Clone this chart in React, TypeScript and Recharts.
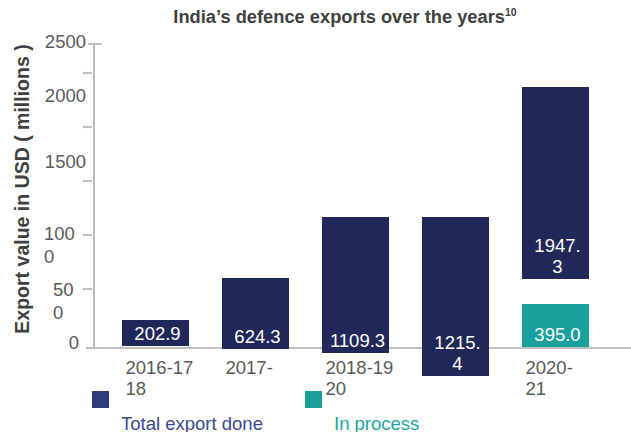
import React from 'react';
import { BarChart, Bar, XAxis, YAxis, ReferenceLine, LabelList, Legend } from 'recharts';

// ---------- data ----------
const categories = ['2016-17', '2017-18', '2018-19', '2019-20', '2020-21'];
// category tick labels as they appear (wrapped) in the picture
const categoryTickLines = [['2016-17', '18'], ['2017-'], ['2018-19', '20'], [], ['2020-', '21']];
// floating ranges [low, high] of the drawn boxes, in axis units
const totalExportRange = [[16, 230], [-8, 576], [-41, 1077], [-230, 1077], [567, 2146]];
const totalExportLabels = ['202.9', '624.3', '1109.3', '1215.\n4', '1947.\n3'];
const inProcessRange = [null, null, null, null, [8, 362]];
const inProcessLabels = ['', '', '', '', '395.0'];
const yTickValues = [0, 485, 929, 1373, 1817, 2262, 2500];
const yTickLabels = ['0', '50\n0', '100\n0', '1500', '', '2000', '2500'];
const seriesNames = ['Total export done', 'In process'];

const data = categories.map((c, i) => ({
  category: c,
  total: totalExportRange[i],
  totalLabel: totalExportLabels[i],
  inProcess: inProcessRange[i],
  inProcessLabel: inProcessLabels[i],
}));

// ---------- styles ----------
const FONT = '"Liberation Sans", Arial, sans-serif';
const FS = 18.5;
const DARK = '#20285a';
const TEAL = '#1aa09c';
const AXIS = '#bfbfbf';
const TEXT = '#595959';

const yLabelLayout = [
  { anchor: 'end', x: -15, dy: -5, tick: [-8, 0] },
  { anchor: 'start', x: -41, dy: 0, tick: [-11, -2] },
  { anchor: 'start', x: -50, dy: -2, tick: [-11, -2] },
  { anchor: 'end', x: -8, dy: -20, tick: [-11, -2] },
  { anchor: 'end', x: -8, dy: 0, tick: [-11, -2] },
  { anchor: 'end', x: -8, dy: 23, tick: [-11, -2] },
  { anchor: 'end', x: -8, dy: -3, tick: [-6, 8] },
];

const YTick = (props: any) => {
  const { x, y, payload } = props;
  const i = yTickValues.indexOf(payload.value);
  if (i < 0) return null;
  const l = yLabelLayout[i];
  const lines = yTickLabels[i] ? yTickLabels[i].split('\n') : [];
  return (
    <g>
      <line x1={x + l.tick[0]} x2={x + l.tick[1]} y1={y} y2={y} stroke={AXIS} strokeWidth={2} />
      {lines.map((t, k) => (
        <text
          key={k}
          x={x + l.x}
          y={y + l.dy + 6.5 + k * 23}
          textAnchor={l.anchor as any}
          fontSize={FS}
          fontFamily={FONT}
          fill={TEXT}
        >
          {t}
        </text>
      ))}
    </g>
  );
};

const XTick = (props: any) => {
  const { x, y, index } = props;
  const lines = categoryTickLines[index] || [];
  return (
    <g>
      {lines.map((t, k) => (
        <text key={k} x={x - 29.5} y={y - 6 + k * 21} textAnchor="start" fontSize={FS} fontFamily={FONT} fill={TEXT}>
          {t}
        </text>
      ))}
    </g>
  );
};

const BarText = (props: any) => {
  const { x, y, width, height, value } = props;
  if (!value) return null;
  const lines = String(value).split('\n');
  const bottom = y + height;
  return (
    <g>
      {lines.map((t, k) => (
        <text
          key={k}
          x={x + width / 2 + 2}
          y={bottom - 6 - (lines.length - 1 - k) * 21}
          textAnchor="middle"
          fontSize={FS}
          fontFamily={FONT}
          fill="#ffffff"
        >
          {t}
        </text>
      ))}
    </g>
  );
};

const YTitle = () => (
  <text
    x={22}
    y={189}
    transform="rotate(-90 22 189)"
    textAnchor="middle"
    dominantBaseline="central"
    fontSize={19.5}
    fontWeight="bold"
    fontFamily={FONT}
    fill="#404040"
  >
    Export value in USD ( millions )
  </text>
);

const legendSwatch = ['#2f3c7c', TEAL];
const legendText = ['#3b4a8c', '#22a6a1'];
const legendLeft = [92, 305];

const LegendContent = (props: any) => {
  const items = [...(props.payload || [])].sort(
    (a: any, b: any) => seriesNames.indexOf(a.value) - seriesNames.indexOf(b.value)
  );
  return (
    <div style={{ position: 'relative', height: 0, width: 631 }}>
      {items.map((it: any, i: number) => (
        <React.Fragment key={i}>
          <div
            style={{
              position: 'absolute',
              left: legendLeft[i],
              top: 391,
              width: 17,
              height: 17,
              background: legendSwatch[i],
            }}
          />
          <div
            style={{
              position: 'absolute',
              left: legendLeft[i] + 29,
              top: 415.3,
              fontSize: FS,
              lineHeight: '1',
              fontFamily: FONT,
              color: legendText[i],
              whiteSpace: 'nowrap',
            }}
          >
            {it.value}
          </div>
        </React.Fragment>
      ))}
    </div>
  );
};

export default function App() {
  return (
    <div style={{ position: 'relative', width: 631, height: 432, overflow: 'hidden', background: '#fff' }}>
      <style>{'body{margin:0}'}</style>
      <div
        style={{
          position: 'absolute',
          left: 0,
          width: 690,
          top: 6,
          textAlign: 'center',
          fontFamily: FONT,
          fontWeight: 'bold',
          fontSize: 18.3,
          color: '#404040',
          zIndex: 2,
        }}
      >
        India’s defence exports over the years<sup style={{ fontSize: 10.5 }}>10</sup>
      </div>
      <BarChart
        width={631}
        height={432}
        data={data}
        margin={{ top: 44, right: 0, bottom: 0, left: 0 }}
      >
        <XAxis
          xAxisId="a"
          dataKey="category"
          padding={{ left: 11, right: 26 }}
          axisLine={false}
          tickLine={false}
          tickSize={0}
          tickMargin={0}
          height={52}
          interval={0}
          tick={<XTick />}
        />
        <XAxis xAxisId="b" dataKey="category" padding={{ left: 11, right: 26 }} hide />
        <YAxis
          type="number"
          domain={[-263.2, 2500]}
          allowDataOverflow
          ticks={yTickValues}
          interval={0}
          width={94}
          tickSize={0}
          tickMargin={0}
          tickLine={false}
          axisLine={{ stroke: AXIS, strokeWidth: 2, strokeDasharray: '304 200' }}
          tick={<YTick />}
          label={{ content: () => <YTitle /> }}
        />
        <ReferenceLine xAxisId="a" y={0} stroke={AXIS} strokeWidth={2} zIndex={100} />
        <Bar xAxisId="a" dataKey="total" name={seriesNames[0]} fill={DARK} barSize={67} isAnimationActive={false}>
          <LabelList dataKey="totalLabel" content={<BarText />} />
        </Bar>
        <Bar xAxisId="b" dataKey="inProcess" name={seriesNames[1]} fill={TEAL} barSize={67} isAnimationActive={false}>
          <LabelList dataKey="inProcessLabel" content={<BarText />} />
        </Bar>
        <Legend
          content={<LegendContent />}
          wrapperStyle={{ position: 'absolute', left: 0, top: 0, width: 631, height: 0 }}
        />
      </BarChart>
    </div>
  );
}
